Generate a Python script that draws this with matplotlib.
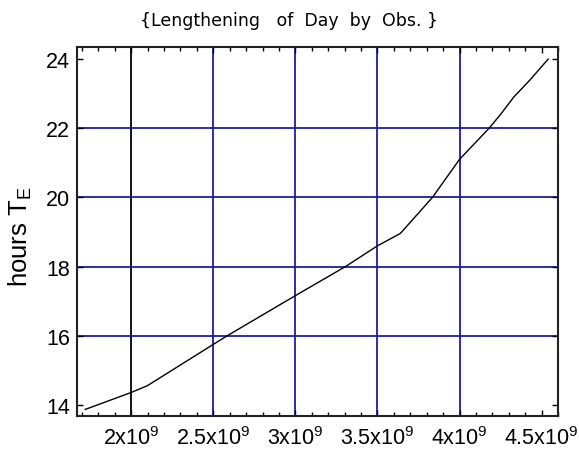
import numpy as np
import matplotlib.pyplot as plt
from matplotlib.ticker import FixedLocator, MultipleLocator

plt.rcParams["font.family"] = ["Liberation Sans", "DejaVu Sans"]
plt.rcParams["mathtext.fontset"] = "custom"
plt.rcParams["mathtext.rm"] = "Liberation Sans"
plt.rcParams["mathtext.it"] = "Liberation Sans"

# curve (age in years, length of day in hours)
years = [1.72e9, 2.0e9, 2.1e9, 2.5e9, 2.585e9, 3.0e9, 3.305e9, 3.5e9,
         3.64e9, 3.835e9, 4.0e9, 4.18e9, 4.25e9, 4.33e9, 4.43e9, 4.54e9]
hours = [13.87, 14.36, 14.56, 15.75, 16.0, 17.16, 18.0, 18.6,
         18.96, 20.0, 21.1, 22.0, 22.4, 22.9, 23.4, 24.0]

x_ticks = [2.0e9, 2.5e9, 3.0e9, 3.5e9, 4.0e9, 4.5e9]
x_labels = ["2x10$^9$", "2.5x10$^9$", "3x10$^9$", "3.5x10$^9$",
            "4x10$^9$", "4.5x10$^9$"]
y_ticks = [14, 16, 18, 20, 22, 24]

x_grid = [2.0e9, 2.5e9, 3.0e9, 3.5e9, 4.0e9]
x_grid_colors = ["black", "#1c1ca0", "#1c1ca0", "#1c1ca0", "#1c1ca0"]
y_grid = [16, 18, 20, 22]

fig = plt.figure(figsize=(5.79, 4.56), dpi=100)
ax = fig.add_axes([77 / 579, 39 / 456, 481 / 579, 369 / 456])

for xg, c in zip(x_grid, x_grid_colors):
    ax.axvline(xg, color=c, lw=1.3, zorder=1)
for yg in y_grid:
    ax.axhline(yg, color="#1c1ca0", lw=1.3, zorder=1)

ax.plot(years, hours, color="black", lw=1.0, zorder=3)

ax.set_xlim(1.67e9, 4.6e9)
ax.set_ylim(13.68, 24.35)

ax.xaxis.set_major_locator(FixedLocator(x_ticks))
ax.set_xticklabels(x_labels)
ax.xaxis.set_minor_locator(MultipleLocator(1e8))
ax.set_yticks(y_ticks)

ax.tick_params(which="both", direction="in", top=True, right=True,
               labelsize=15.5, colors="black", width=1.0)
ax.tick_params(which="major", length=4, pad=5)
ax.tick_params(which="minor", length=3)
ax.tick_params(axis="x", which="major", pad=7)

for sp in ax.spines.values():
    sp.set_linewidth(1.5)
    sp.set_color("#222222")

ax.set_ylabel("hours T$_{\\rm E}$", fontsize=18.5)
ax.yaxis.set_label_coords(-43 / 481, 0.49)

fig.text(0.5, 1 - 21 / 456, "{Lengthening   of  Day  by  Obs. }",
         ha="center", va="center", fontsize=12.5, family="DejaVu Sans")

fig.savefig("out.png", dpi=100)
